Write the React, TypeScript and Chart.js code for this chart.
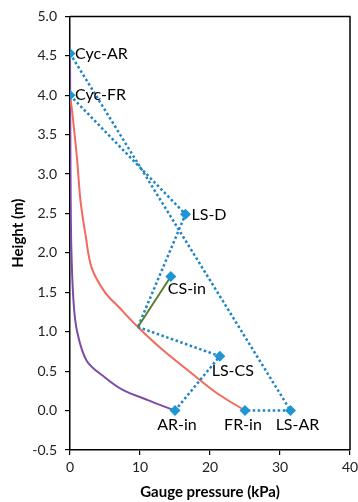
import React, { useEffect, useRef } from "react";
import { Chart, registerables } from "chart.js";

Chart.register(...registerables);

// Marker points
const markerNames = ["Cyc-AR", "Cyc-FR", "LS-D", "CS-in", "LS-CS", "AR-in", "FR-in", "LS-AR"];
const markerX = [0, 0, 16.5, 14.4, 21.4, 15.0, 25.0, 31.5];
const markerY = [4.53, 4.0, 2.49, 1.7, 0.69, 0, 0, 0];

// Red curve (FR)
const redX = [0, 0.3, 1.0, 1.5, 2.2, 3.1, 5.0, 7.0, 9.7, 13.1, 17.4, 21.0, 25.0];
const redY = [4.0, 3.8, 3.2, 2.66, 2.24, 1.81, 1.5, 1.31, 1.06, 0.78, 0.47, 0.22, 0];

// Purple curve (AR)
const purpleX = [0, 0.05, 0.1, 0.2, 0.5, 1.0, 2.4, 5.0, 7.4, 11.2, 15.0];
const purpleY = [4.53, 3.5, 2.66, 2.03, 1.39, 1.01, 0.63, 0.42, 0.27, 0.13, 0];

// Green segment
const greenX = [9.7, 14.4];
const greenY = [1.06, 1.7];

// Dotted paths
const dot1X = [0, 31.5, 25.0];
const dot1Y = [4.53, 0, 0];
const dot2X = [0, 16.5, 9.7];
const dot2Y = [4.0, 2.49, 1.06];
const dot3X = [9.7, 21.4, 15.0];
const dot3Y = [1.06, 0.69, 0];

const yTicksMin = -0.5;
const yTicksMax = 5.0;
const xTicksMin = 0;
const xTicksMax = 40;

const zip = (xs: number[], ys: number[]) => xs.map((x, i) => ({ x, y: ys[i] }));

// label placement styles: [dx, dy, align]
const labelStyle: [number, number, CanvasTextAlign][] = [
  [5, 0, "left"],
  [5, 0, "left"],
  [6, 1, "left"],
  [-3, 12, "left"],
  [13, 15, "center"],
  [2, 14, "center"],
  [-2, 14, "center"],
  [7, 14, "center"],
];

const FONT = "Lato, 'Open Sans', sans-serif";

export default function App() {
  const ref = useRef<HTMLCanvasElement>(null);
  useEffect(() => {
    document.body.style.margin = "0";
    const blue = "#1f96d3";
    const dotBlue = "#1f84c6";
    const dotted = (data: { x: number; y: number }[]) => ({
      data,
      showLine: true,
      borderColor: dotBlue,
      borderWidth: 2.5,
      borderDash: [2.5, 2.5],
      pointRadius: 0,
      fill: false,
      tension: 0,
    });
    const labelPlugin = {
      id: "labels",
      afterDatasetsDraw(chart: any) {
        const ctx = chart.ctx;
        const meta = chart.getDatasetMeta(0);
        ctx.save();
        ctx.font = `16px ${FONT}`;
        ctx.fillStyle = "#000";
        ctx.textBaseline = "middle";
        meta.data.forEach((pt: any, i: number) => {
          const [dx, dy, al] = labelStyle[i];
          ctx.textAlign = al;
          ctx.fillText(markerNames[i], pt.x + dx, pt.y + dy);
        });
        ctx.restore();
      },
      afterDraw(chart: any) {
        const { ctx, chartArea } = chart;
        ctx.save();
        ctx.strokeStyle = "#000";
        ctx.lineWidth = 1.5;
        ctx.beginPath();
        ctx.moveTo(chartArea.left, chartArea.top);
        ctx.lineTo(chartArea.right, chartArea.top);
        ctx.lineTo(chartArea.right, chartArea.bottom);
        ctx.stroke();
        ctx.restore();
      },
    };
    const chart = new Chart(ref.current!, {
      type: "scatter",
      data: {
        datasets: [
          {
            data: zip(markerX, markerY),
            pointStyle: "rectRot",
            pointRadius: 5.5,
            backgroundColor: blue,
            borderColor: blue,
            borderWidth: 0,
            showLine: false,
          } as any,
          {
            data: zip(greenX, greenY),
            showLine: true,
            borderColor: "#5b7f2e",
            borderWidth: 2,
            pointRadius: 0,
          },
          dotted(zip(dot1X, dot1Y)),
          dotted(zip(dot2X, dot2Y)),
          dotted(zip(dot3X, dot3Y)),
          {
            data: zip(redX, redY),
            showLine: true,
            borderColor: "#f26a5c",
            borderWidth: 2,
            pointRadius: 0,
            tension: 0.35,
          },
          {
            data: zip(purpleX, purpleY),
            showLine: true,
            borderColor: "#7d4ba6",
            borderWidth: 2,
            pointRadius: 0,
            tension: 0.35,
          },
        ],
      },
      options: {
        animation: false,
        responsive: false,
        maintainAspectRatio: false,
        layout: { padding: { top: 16, right: 8, left: 0, bottom: 0 } },
        plugins: { legend: { display: false }, tooltip: { enabled: false } },
        scales: {
          x: {
            type: "linear",
            min: xTicksMin,
            max: xTicksMax,
            afterFit: (s: any) => {
              s.height = 52;
              s.paddingRight = 0;
            },
            ticks: {
              stepSize: 10,
              color: "#222",
              font: { family: FONT, size: 14 },
              padding: 4,
              maxRotation: 0,
            },
            grid: { drawOnChartArea: false, drawTicks: true, tickLength: 5, color: "#000", lineWidth: 1.2 },
            border: { display: true, color: "#000", width: 1.5 },
            title: {
              display: true,
              text: "Gauge pressure (kPa)",
              color: "#000",
              font: { family: FONT, size: 15, weight: "bold" },
              padding: { top: 0, bottom: 1 },
            },
          },
          y: {
            type: "linear",
            min: yTicksMin,
            max: yTicksMax,
            afterFit: (s: any) => {
              s.width = 70;
            },
            ticks: {
              stepSize: 0.5,
              color: "#222",
              font: { family: FONT, size: 14 },
              padding: 8,
              callback: (v: any) => Number(v).toFixed(1),
            },
            grid: { drawOnChartArea: false, drawTicks: true, tickLength: 5, color: "#000", lineWidth: 1.2 },
            border: { display: true, color: "#000", width: 1.5 },
            title: {
              display: true,
              text: "Height (m)",
              color: "#000",
              font: { family: FONT, size: 15, weight: "bold" },
              padding: { top: 9, bottom: 0 },
            },
          },
        },
      },
      plugins: [labelPlugin],
    });
    return () => chart.destroy();
  }, []);
  return (
    <div style={{ width: 358, height: 502 }}>
      <canvas ref={ref} width={358} height={502} style={{ display: "block" }} />
    </div>
  );
}
